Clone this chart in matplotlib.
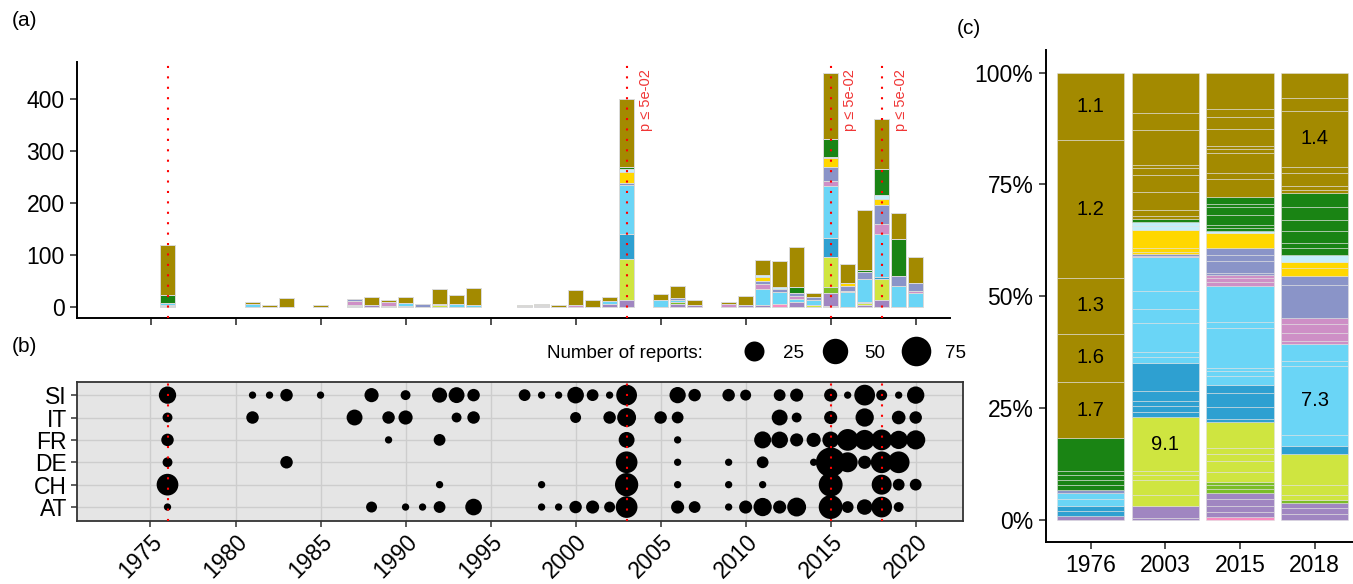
import matplotlib
matplotlib.use('Agg')
import matplotlib.pyplot as plt
import numpy as np
from matplotlib.lines import Line2D

plt.rcParams['font.family'] = ['Liberation Sans', 'DejaVu Sans']

# ---------------- data ----------------
# panel (a): number of damage entries per year, by damage group
years = [1976, 1981, 1982, 1983, 1985, 1987, 1988, 1989, 1990, 1991, 1992, 1993, 1994,
         1997, 1998, 1999, 2000, 2001, 2002, 2003, 2005, 2006, 2007, 2009, 2010,
         2011, 2012, 2013, 2014, 2015, 2016, 2017, 2018, 2019, 2020]

olive = [97, 5, 4, 16, 3, 0, 15, 3, 10, 0, 28, 16, 34, 2, 2, 3, 29, 13, 8, 131,
         12, 24, 10, 5, 18, 29, 50, 77, 9, 127, 36, 117, 98, 50, 51]
green = [14, 0, 0, 0, 0, 0, 0, 0, 0, 0, 0, 0, 0, 0, 0, 0, 0, 0, 0, 3,
         0, 0, 0, 0, 0, 0, 0, 12, 0, 35, 0, 4, 50, 71, 0]
lcyan = [0, 0, 0, 0, 0, 0, 0, 0, 0, 0, 3, 0, 0, 0, 0, 0, 0, 0, 0, 7,
         0, 0, 0, 0, 0, 3, 4, 0, 0, 2, 0, 0, 8, 0, 0]
gold = [0, 0, 0, 0, 0, 0, 0, 0, 0, 0, 0, 0, 0, 0, 0, 0, 0, 0, 0, 21,
        0, 0, 0, 0, 0, 9, 0, 0, 0, 17, 6, 0, 10, 0, 0]
lav = [1, 0, 0, 0, 0, 3, 0, 0, 0, 5, 0, 0, 0, 1, 2, 0, 0, 0, 0, 3,
       0, 3, 0, 0, 0, 6, 6, 6, 6, 27, 10, 12, 37, 21, 14]
orch = [0, 0, 0, 0, 0, 8, 0, 8, 0, 0, 0, 0, 0, 0, 2, 0, 3, 0, 0, 0,
        0, 0, 0, 5, 0, 8, 0, 5, 0, 11, 2, 0, 19, 0, 5]
sky = [3, 5, 0, 0, 0, 2, 0, 0, 6, 0, 0, 6, 3, 0, 0, 0, 0, 0, 6, 95,
       12, 4, 0, 0, 0, 32, 22, 5, 9, 99, 28, 45, 84, 39, 26]
dblue = [3, 0, 0, 0, 0, 1, 0, 0, 2, 0, 0, 0, 0, 0, 0, 0, 0, 0, 0, 48,
         0, 0, 0, 0, 0, 0, 0, 0, 0, 37, 0, 2, 4, 0, 0]
ygreen = [0, 0, 0, 0, 0, 0, 0, 0, 0, 0, 3, 0, 0, 0, 0, 0, 0, 0, 0, 80,
          0, 0, 0, 0, 0, 0, 0, 0, 3, 58, 0, 4, 40, 0, 0]
lgreen = [0, 0, 0, 0, 0, 0, 0, 0, 0, 0, 0, 0, 0, 0, 0, 0, 0, 0, 0, 0,
          0, 3, 0, 0, 0, 0, 0, 0, 0, 12, 0, 0, 0, 0, 0]
purple = [1, 0, 0, 0, 0, 0, 3, 1, 0, 0, 0, 0, 0, 0, 0, 0, 0, 0, 5, 12,
          0, 6, 3, 0, 3, 3, 0, 10, 0, 24, 0, 3, 13, 0, 0]
pink = [0, 0, 0, 0, 0, 0, 0, 0, 0, 0, 0, 0, 0, 0, 0, 0, 0, 0, 0, 0,
        0, 0, 0, 0, 0, 0, 6, 0, 0, 2, 0, 0, 0, 0, 0]

colors = {'olive': '#A38A00', 'green': '#1A8414', 'lcyan': '#C4EEFA', 'gold': '#FFD700',
          'lav': '#8A94C8', 'orch': '#CE8FC6', 'sky': '#6AD5F6', 'dblue': '#2EA0D1',
          'ygreen': '#CFE540', 'lgreen': '#7BBD26', 'purple': '#A086C1', 'pink': '#F78BC0'}
# bottom -> top
stack = [('pink', pink), ('purple', purple), ('lgreen', lgreen), ('ygreen', ygreen),
         ('dblue', dblue), ('sky', sky), ('orch', orch), ('lav', lav), ('gold', gold),
         ('lcyan', lcyan), ('green', green), ('olive', olive)]

event_years = [1976, 2003, 2015, 2018]
sig_years = [2003, 2015, 2018]

# panel (b): number of reports per country and year
countries = ['AT', 'CH', 'DE', 'FR', 'IT', 'SI']
at_years = [1976, 1988, 1990, 1991, 1992, 1994, 1998, 1999, 2000, 2001, 2002, 2003,
            2006, 2007, 2009, 2010, 2011, 2012, 2013, 2015, 2016, 2017, 2018, 2019]
at_n = [1, 3, 1, 1, 4, 14, 1, 1, 5, 6, 3, 32, 6, 4, 1, 6, 19, 6, 21, 42, 4, 11, 28, 2]
ch_years = [1976, 1992, 1998, 2003, 2006, 2009, 2011, 2015, 2018, 2019, 2020]
ch_n = [32, 1, 1, 39, 1, 1, 1, 42, 25, 4, 4]
de_years = [1976, 1983, 2003, 2006, 2009, 2011, 2014, 2015, 2016, 2017, 2018, 2019]
de_n = [2, 5, 32, 1, 1, 4, 1, 75, 25, 6, 32, 32]
fr_years = [1976, 1989, 1992, 2003, 2006, 2011, 2012, 2013, 2014, 2015, 2016, 2017,
            2018, 2019, 2020]
fr_n = [5, 1, 4, 12, 1, 15, 14, 6, 8, 14, 32, 25, 28, 19, 22]
it_years = [1976, 1981, 1987, 1989, 1990, 1993, 1994, 2000, 2002, 2003, 2005, 2006,
            2012, 2013, 2015, 2017, 2019, 2020]
it_n = [2, 5, 12, 5, 8, 2, 5, 3, 5, 21, 5, 4, 12, 2, 6, 19, 7, 5]
si_years = [1976, 1981, 1982, 1983, 1985, 1988, 1990, 1992, 1993, 1994, 1997, 1998,
            1999, 2000, 2001, 2002, 2003, 2006, 2007, 2009, 2010, 2012, 2013, 2015,
            2016, 2017, 2018, 2019, 2020]
si_n = [16, 1, 1, 5, 1, 8, 2, 10, 12, 5, 4, 1, 1, 14, 4, 1, 28, 13, 5, 5, 3, 4, 6, 6,
        1, 28, 3, 1, 16]
legend_n = [25, 50, 75]

# panel (c): share of damage sub-types (percent), listed top -> bottom
seg_1976 = [('olive', 15.0, '1.1'), ('olive', 30.8, '1.2'), ('olive', 12.4, '1.3'),
            ('olive', 10.8, '1.6'), ('olive', 12.5, '1.7'),
            ('green', 7.4, ''), ('green', 0.8, ''), ('green', 1.1, ''), ('green', 1.1, ''),
            ('green', 1.1, ''), ('lav', 0.8, ''), ('sky', 1.4, ''), ('sky', 1.4, ''),
            ('dblue', 1.2, ''), ('dblue', 1.1, ''), ('purple', 0.8, '')]
seg_2003 = [('olive', 8.9, ''), ('olive', 4.0, ''), ('olive', 7.7, ''), ('olive', 0.8, ''),
            ('olive', 1.4, ''), ('olive', 3.9, ''), ('olive', 4.0, ''), ('olive', 1.4, ''),
            ('olive', 0.6, ''), ('green', 0.7, ''), ('lcyan', 1.0, ''), ('lcyan', 0.7, ''),
            ('gold', 4.2, ''), ('gold', 0.7, ''), ('gold', 0.5, ''), ('lav', 0.4, ''),
            ('orch', 0.4, ''), ('sky', 7.6, ''), ('sky', 3.9, ''), ('sky', 3.3, ''),
            ('sky', 6.3, ''), ('sky', 1.3, ''), ('sky', 1.3, ''), ('dblue', 6.2, ''),
            ('dblue', 2.2, ''), ('dblue', 1.1, ''), ('dblue', 1.3, ''), ('dblue', 1.2, ''),
            ('ygreen', 12.2, '9.1'), ('ygreen', 0.8, ''), ('ygreen', 1.1, ''),
            ('ygreen', 3.3, ''), ('ygreen', 2.5, ''), ('purple', 2.8, ''), ('purple', 0.3, '')]
seg_2015 = [('olive', 8.2, ''), ('olive', 1.6, ''), ('olive', 2.8, ''), ('olive', 3.8, ''),
            ('olive', 0.6, ''), ('olive', 0.9, ''), ('olive', 4.4, ''), ('olive', 1.5, ''),
            ('olive', 3.9, ''), ('green', 1.6, ''), ('green', 0.6, ''), ('green', 2.0, ''),
            ('green', 2.2, ''), ('green', 0.6, ''), ('green', 0.6, ''), ('lcyan', 0.5, ''),
            ('gold', 3.3, ''), ('lav', 1.7, ''), ('lav', 1.3, ''), ('lav', 2.6, ''),
            ('lav', 0.4, ''), ('orch', 0.7, ''), ('orch', 1.0, ''), ('orch', 0.9, ''),
            ('sky', 8.0, ''), ('sky', 1.3, ''), ('sky', 8.9, ''), ('sky', 0.7, ''),
            ('sky', 1.2, ''), ('sky', 2.0, ''), ('dblue', 1.7, ''), ('dblue', 3.3, ''),
            ('dblue', 2.6, ''), ('dblue', 0.6, ''), ('ygreen', 5.8, ''), ('ygreen', 1.4, ''),
            ('ygreen', 1.5, ''), ('ygreen', 2.5, ''), ('ygreen', 2.2, ''), ('lgreen', 0.8, ''),
            ('lgreen', 0.8, ''), ('lgreen', 0.9, ''), ('purple', 1.4, ''), ('purple', 1.5, ''),
            ('purple', 1.3, ''), ('purple', 1.2, ''), ('pink', 0.6, '')]
seg_2018 = [('olive', 5.6, ''), ('olive', 2.9, ''), ('olive', 12.5, '1.4'), ('olive', 1.5, ''),
            ('olive', 2.9, ''), ('olive', 0.9, ''), ('olive', 0.5, ''), ('green', 3.3, ''),
            ('green', 2.9, ''), ('green', 2.5, ''), ('green', 2.6, ''), ('green', 1.1, ''),
            ('green', 1.5, ''), ('lcyan', 1.7, ''), ('gold', 1.3, ''), ('gold', 1.8, ''),
            ('lav', 1.9, ''), ('lav', 7.4, ''), ('orch', 1.5, ''), ('orch', 1.9, ''),
            ('orch', 1.8, ''), ('orch', 0.8, ''), ('sky', 3.7, ''), ('sky', 1.1, ''),
            ('sky', 15.5, '7.3'), ('sky', 2.4, ''), ('dblue', 1.7, ''), ('ygreen', 7.1, ''),
            ('ygreen', 2.2, ''), ('ygreen', 1.2, ''), ('lgreen', 0.5, ''),
            ('purple', 1.3, ''), ('purple', 1.2, ''), ('purple', 1.3, '')]
share_years = ['1976', '2003', '2015', '2018']


def dot_size(n):
    # ggplot-like area scale: diameter in px -> marker area in pt^2
    d_px = 7.3 + 2.59 * np.sqrt(np.asarray(n, dtype=float) - 1)
    return (d_px * 72 / 100) ** 2


W, H = 1353, 584
fig = plt.figure(figsize=(W / 100, H / 100), dpi=100)


def px_axes(l, t, r, b):
    return fig.add_axes([l / W, 1 - b / H, (r - l) / W, (b - t) / H])


TICK = 16.5
red_dots = (0, (1, 4))

# ---------------- panel (a) ----------------
ax_a = px_axes(77, 62, 950, 318)
bottom = np.zeros(len(years))
for key, vals in stack:
    vals = np.array(vals, dtype=float)
    m = vals > 0
    ax_a.bar(np.array(years)[m], vals[m], width=0.9, bottom=bottom[m], color=colors[key],
             edgecolor='#DADADA', linewidth=0.7, zorder=2)
    bottom += vals
for yr in event_years:
    ax_a.axvline(yr, color='red', ls=red_dots, lw=1.5, zorder=5)
for yr in sig_years:
    ax_a.text(yr + 1.15, 458, 'p \u2264 5e-02', rotation=90, color='#F03535',
              ha='center', va='top', fontsize=10.5)
ax_a.set_xlim(1970.66, 2022.02)
ax_a.set_ylim(-21.8, 472)
ax_a.set_xticks(range(1975, 2021, 5))
ax_a.set_yticks([0, 100, 200, 300, 400])
ax_a.tick_params(labelbottom=False, length=5, width=1.2, color='#333333',
                 labelsize=TICK, pad=4)
for s in ['top', 'right']:
    ax_a.spines[s].set_visible(False)
for s in ['left', 'bottom']:
    ax_a.spines[s].set_linewidth(1.4)

# ---------------- panel (b) ----------------
ax_b = px_axes(76.7, 381.7, 963.3, 520.7)
ax_b.set_facecolor('#E5E5E5')
for row, (yrs, n) in enumerate([(at_years, at_n), (ch_years, ch_n), (de_years, de_n),
                                 (fr_years, fr_n), (it_years, it_n), (si_years, si_n)]):
    ax_b.scatter(yrs, np.full(len(yrs), row + 1), s=dot_size(n), color='black',
                 linewidths=0, zorder=3)
for yr in event_years:
    ax_b.axvline(yr, color='red', ls=red_dots, lw=1.5, zorder=5)
ax_b.set_xlim(1970.66, 2022.80)
ax_b.set_ylim(0.39, 6.6)
ax_b.set_xticks(range(1975, 2021, 5))
ax_b.set_yticks(range(1, 7))
ax_b.set_yticklabels(countries)
ax_b.grid(True, color='#CDCDCD', lw=1)
ax_b.set_axisbelow(True)
ax_b.tick_params(length=4, width=1.1, color='#333333', labelsize=TICK, pad=3)
plt.setp(ax_b.get_xticklabels(), rotation=45, ha='right', rotation_mode='anchor')
for s in ax_b.spines.values():
    s.set_linewidth(1.3)
    s.set_color('#333333')

handles = [Line2D([], [], ls='', marker='o', color='black', markeredgewidth=0,
                  markersize=np.sqrt(dot_size(v))) for v in legend_n]
fig.legend(handles, [str(v) for v in legend_n], ncol=3, frameon=False, fontsize=13.5,
           loc='center right', bbox_to_anchor=(966 / W, 1 - 353 / H),
           handletextpad=0.55, columnspacing=0.65, borderpad=0, borderaxespad=0)
fig.text(703 / W, 1 - 354 / H, 'Number of reports:', ha='right', va='center', fontsize=13.5)

# ---------------- panel (c) ----------------
ax_c = px_axes(1046, 50.4, 1353, 542)
for i, segs in enumerate([seg_1976, seg_2003, seg_2015, seg_2018]):
    total = sum(s[1] for s in segs)
    base = 0.0
    for key, pct, code in segs[::-1]:
        h = pct / total
        ax_c.bar(i + 1, h, width=0.9, bottom=base, color=colors[key],
                 edgecolor=(0.88, 0.88, 0.88, 0.75), linewidth=0.5)
        if code:
            ax_c.text(i + 1, base + h / 2, code, ha='center', va='center', fontsize=14.5)
        base += h
ax_c.set_xlim(0.4, 4.513)
ax_c.set_ylim(-0.05, 1.05)
ax_c.set_xticks(range(1, 5))
ax_c.set_xticklabels(share_years)
ax_c.set_yticks([0, 0.25, 0.5, 0.75, 1.0])
ax_c.set_yticklabels(['0%', '25%', '50%', '75%', '100%'])
ax_c.tick_params(length=5, width=1.2, color='#333333', labelsize=TICK, pad=4)
for s in ['top', 'right']:
    ax_c.spines[s].set_visible(False)
for s in ['left', 'bottom']:
    ax_c.spines[s].set_linewidth(1.4)

fig.text(12 / W, 1 - 20 / H, '(a)', ha='left', va='center', fontsize=15)
fig.text(12 / W, 1 - 347 / H, '(b)', ha='left', va='center', fontsize=15)
fig.text(957 / W, 1 - 28 / H, '(c)', ha='left', va='center', fontsize=15)

fig.savefig('out.png', dpi=100)
